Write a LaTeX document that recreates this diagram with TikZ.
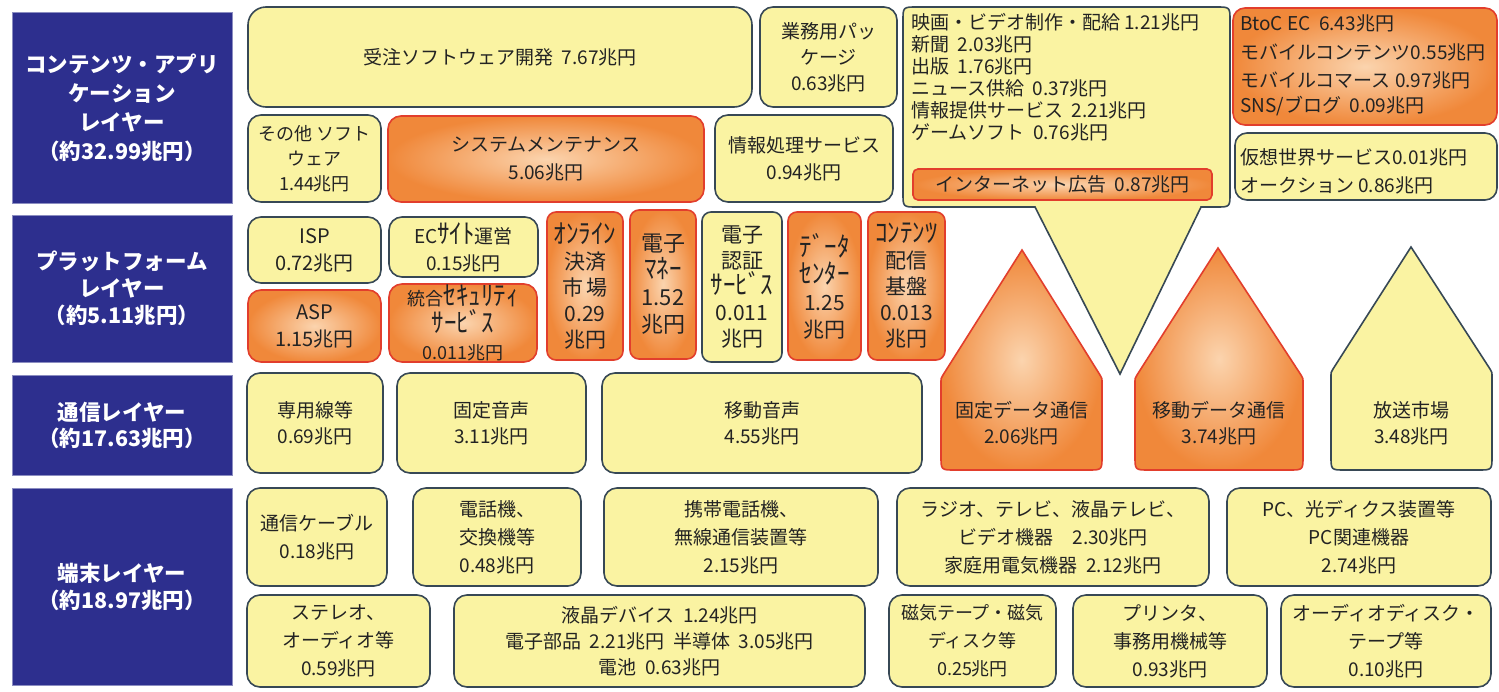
\documentclass[tikz,border=0pt]{standalone}
\usepackage{fontspec}
\usepackage{graphicx}
\setmainfont{Noto Sans CJK JP}
\definecolor{navy}{RGB}{45,47,142}
\definecolor{yfill}{RGB}{250,243,162}
\definecolor{ybord}{RGB}{55,72,85}
\definecolor{ofill}{RGB}{240,136,58}
\definecolor{oin}{RGB}{251,212,174}
\definecolor{obord}{RGB}{226,62,44}
\definecolor{txt}{RGB}{35,35,35}
\newcommand{\hw}[1]{\scalebox{1.25}[1.35]{\fontsize{20}{26}\selectfont #1}}
\newcommand{\bx}[8][]{\node[#2,minimum width={#5pt-#3pt},minimum height={#6pt-#4pt},#1] (#7) at ({(#3+#5)/2},{(#4+#6)/2}) {#8};}
\tikzset{
  bxbase/.style={rounded corners=13pt, line width=1.6pt, inner sep=0pt, outer sep=0pt, align=center, text=txt, font=\fontsize{19}{26}\selectfont},
  ybox/.style={bxbase, draw=ybord, fill=yfill},
  obox/.style={bxbase, draw=obord, shade, inner color=oin, outer color=ofill},
  lbl/.style={draw=navy!55!white, fill=navy, line width=1pt, text=white, align=center, inner sep=0pt, outer sep=0pt, font=\bfseries\fontsize{21.5}{27}\selectfont},
  ln/.style={anchor=west, inner sep=0pt, text=txt, font=\fontsize{19}{22}\selectfont},
  hshape/.style={line width=1.6pt},
  narrow/.style={rounded corners=9pt, font=\fontsize{21}{26}\selectfont},
}
\begin{document}
\begin{tikzpicture}[x=1pt,y=-1pt]
\useasboundingbox (0,0) rectangle (1499,691);
\fill[white] (0,0) rectangle (1499,691);

% ---- layer labels
\bx[font=\bfseries\fontsize{21.5}{29}\selectfont]{lbl}{12}{12}{232}{203}{L1}{コンテンツ・アプリ\\ケーション\\レイヤー\\（約32.99兆円）}
\bx{lbl}{12}{215}{232}{362}{L2}{プラットフォーム\\レイヤー\\（約5.11兆円）}
\bx[font=\bfseries\fontsize{21.5}{26}\selectfont]{lbl}{12}{375}{232}{475}{L3}{通信レイヤー\\（約17.63兆円）}
\bx[font=\bfseries\fontsize{21.5}{27}\selectfont]{lbl}{12}{488}{232}{685}{L4}{端末レイヤー\\（約18.97兆円）}

% ---- content / application layer
\bx[rounded corners=18pt]{ybox}{248}{7}{752}{107}{soft}{受注ソフトウェア開発\ \ 7.67兆円}
\bx{ybox}{760}{7}{897}{107}{pkg}{業務用パッ\\ケージ\\0.63兆円}
\bx[font=\fontsize{18}{25}\selectfont]{ybox}{248}{115}{381}{202}{other}{その他 ソフト\\ウェア\\1.44兆円}
\bx[font=\fontsize{19}{28}\selectfont]{obox}{388}{116}{704}{202}{maint}{システムメンテナンス\\5.06兆円}
\bx[font=\fontsize{19}{27}\selectfont]{ybox}{715}{115}{893}{202}{info}{情報処理サービス\\0.94兆円}

\filldraw[hshape, draw=ybord, fill=yfill] (1035,207) -- (917,207) .. controls (903,207) .. (903,193) -- (903,21) .. controls (903,7) .. (917,7) -- (1216,7) .. controls (1230,7) .. (1230,21) -- (1230,193) .. controls (1230,207) .. (1216,207) -- (1201,207) -- (1120,374) -- cycle;
\node[ln] (c1) at (911,22) {映画・ビデオ制作・配給 1.21兆円};
\node[ln] (c2) at (911,44) {新聞\ \ 2.03兆円};
\node[ln] (c3) at (911,66) {出版\ \ 1.76兆円};
\node[ln] (c4) at (911,88) {ニュース供給\ \ 0.37兆円};
\node[ln] (c5) at (911,110) {情報提供サービス\ \ 2.21兆円};
\node[ln] (c6) at (911,132) {ゲームソフト\ \ 0.76兆円};
\bx[rounded corners=5pt]{obox}{913}{169}{1212}{200}{ad}{インターネット広告\ \ 0.87兆円}

\bx[rounded corners=12pt]{obox}{1233}{8}{1497}{125}{btoc}{}
\node[ln] (b1) at (1240,23) {BtoC EC\ \ 6.43兆円};
\node[ln] (b2) at (1240,52) {モバイルコンテンツ0.55兆円};
\node[ln] (b3) at (1240,80) {モバイルコマース 0.97兆円};
\node[ln] (b4) at (1240,106) {SNS/ブログ\ \ 0.09兆円};
\bx[rounded corners=12pt]{ybox}{1235}{133}{1497}{200}{kaso}{}
\node[ln] (k1) at (1240,157) {仮想世界サービス0.01兆円};
\node[ln] (k2) at (1240,185) {オークション 0.86兆円};

% ---- platform layer
\bx[font=\fontsize{20}{27}\selectfont]{ybox}{248}{217}{381}{283}{isp}{ISP\\0.72兆円}
\bx[font=\fontsize{20}{27}\selectfont]{obox}{248}{290}{381}{362}{asp}{ASP\\1.15兆円}
\bx[font=\fontsize{19}{27}\selectfont]{ybox}{389}{217}{538}{277}{ec}{EC\hw{ｻｲﾄ}運営\\0.15兆円}
\bx[font=\fontsize{18}{27}\selectfont]{obox}{389}{284}{537}{362}{sec}{統合\hw{ｾｷｭﾘﾃｨ}\\\hw{ｻｰﾋﾞｽ}\\0.011兆円}
\bx[narrow]{obox}{547}{212}{623}{360}{pay}{\hw{ｵﾝﾗｲﾝ}\\決済\\市\,場\\0.29\\兆円}
\bx[narrow, font=\fontsize{22}{27}\selectfont]{obox}{630}{210}{696}{359}{emoney}{電子\\\hw{ﾏﾈｰ}\\1.52\\兆円}
\bx[narrow]{ybox}{702}{212}{782}{362}{auth}{電子\\認証\\\hw{ｻｰﾋﾞｽ}\\0.011\\兆円}
\bx[narrow, font=\fontsize{21}{27}\selectfont]{obox}{788}{212}{861}{360}{dc}{\hw{ﾃﾞｰﾀ}\\\hw{ｾﾝﾀｰ}\\1.25\\兆円}
\bx[narrow]{obox}{868}{212}{945}{360}{cdn}{\hw{ｺﾝﾃﾝﾂ}\\配信\\基盤\\0.013\\兆円}

% ---- communication layer
\bx{ybox}{247}{373}{383}{473}{lease}{専用線等\\0.69兆円}
\bx{ybox}{397}{373}{586}{473}{fixv}{固定音声\\3.11兆円}
\bx{ybox}{602}{373}{922}{473}{mobv}{移動音声\\4.55兆円}

\shadedraw[hshape, draw=obord, inner color=oin, outer color=ofill] (1022,250) -- (1100,375) .. controls (1102,378) .. (1102,384) -- (1102,456) .. controls (1102,470) .. (1088,470) -- (955,470) .. controls (941,470) .. (941,456) -- (941,384) .. controls (941,378) .. (943,375) -- cycle;
\node[align=center, text=txt, font=\fontsize{19}{26}\selectfont] (fdata) at (1021.5,423) {固定データ通信\\2.06兆円};

\shadedraw[hshape, draw=obord, inner color=oin, outer color=ofill] (1218,248) -- (1301,375) .. controls (1303,378) .. (1303,384) -- (1303,456) .. controls (1303,470) .. (1289,470) -- (1149,470) .. controls (1135,470) .. (1135,456) -- (1135,384) .. controls (1135,378) .. (1137,375) -- cycle;
\node[align=center, text=txt, font=\fontsize{19}{26}\selectfont] (mdata) at (1219,423) {移動データ通信\\3.74兆円};

\filldraw[hshape, draw=ybord, fill=yfill] (1411,247) -- (1490,369) .. controls (1492,372) .. (1492,378) -- (1492,456) .. controls (1492,470) .. (1478,470) -- (1345,470) .. controls (1331,470) .. (1331,456) -- (1331,378) .. controls (1331,372) .. (1333,369) -- cycle;
\node[align=center, text=txt, font=\fontsize{19}{26}\selectfont] (bcast) at (1411.5,423) {放送市場\\3.48兆円};

% ---- terminal layer
\bx[font=\fontsize{19}{28}\selectfont]{ybox}{247}{488}{387}{586}{cable}{通信ケーブル\\0.18兆円}
\bx[font=\fontsize{19}{28}\selectfont]{ybox}{413}{488}{581}{586}{phone}{電話機、\\交換機等\\0.48兆円}
\bx[font=\fontsize{19}{28}\selectfont]{ybox}{604}{488}{878}{586}{mobile}{携帯電話機、\\無線通信装置等\\2.15兆円}
\bx[font=\fontsize{19}{28}\selectfont]{ybox}{897}{488}{1209}{586}{radio}{ラジオ、テレビ、液晶テレビ、\\ビデオ機器\quad 2.30兆円\\家庭用電気機器\ \ 2.12兆円}
\bx[font=\fontsize{19}{28}\selectfont]{ybox}{1227}{488}{1491}{586}{pc}{PC、光ディクス装置等\\PC関連機器\\2.74兆円}

\bx[font=\fontsize{19}{28}\selectfont]{ybox}{247}{595}{430}{687}{stereo}{ステレオ、\\オーディオ等\\0.59兆円}
\bx[font=\fontsize{19}{26}\selectfont]{ybox}{454}{595}{865}{687}{lcd}{液晶デバイス\ \ 1.24兆円\\電子部品\ \ 2.21兆円\ \ 半導体\ \ 3.05兆円\\電池\ \ 0.63兆円}
\bx[font=\fontsize{18}{28}\selectfont]{ybox}{889}{595}{1056}{687}{magnetic}{磁気テープ・磁気\\ディスク等\\0.25兆円}
\bx[font=\fontsize{19}{28}\selectfont]{ybox}{1073}{595}{1267}{687}{printer}{プリンタ、\\事務用機械等\\0.93兆円}
\bx[font=\fontsize{19}{28}\selectfont]{ybox}{1281}{595}{1491}{687}{audio}{オーディオディスク・\\テープ等\\0.10兆円}
\end{tikzpicture}
\end{document}
